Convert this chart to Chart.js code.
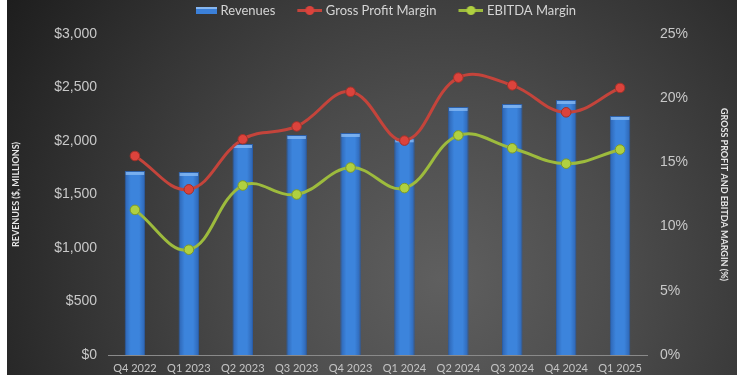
<!DOCTYPE html>
<html>
<head>
<meta charset="utf-8">
<script src="https://cdn.jsdelivr.net/npm/chart.js@4/dist/chart.umd.min.js"></script>
<style>
  html, body { margin: 0; padding: 0; background: #fff; }
  #wrap { width: 750px; height: 375px; }
</style>
</head>
<body>
<div id="wrap"><canvas id="chart" width="750" height="375"></canvas></div>
<script>
// données
const quarters = ["Q4 2022", "Q1 2023", "Q2 2023", "Q3 2023", "Q4 2023", "Q1 2024", "Q2 2024", "Q3 2024", "Q4 2024", "Q1 2025"];
const revenues = [1720, 1710, 1972, 2056, 2075, 2025, 2318, 2346, 2383, 2234];
const grossMargin = [15.5, 12.9, 16.8, 17.8, 20.5, 16.7, 21.6, 21.0, 18.9, 20.8];
const ebitdaMargin = [11.3, 8.2, 13.2, 12.5, 14.6, 13.0, 17.1, 16.1, 14.9, 16.0];

const revenueTicks = [0, 500, 1000, 1500, 2000, 2500, 3000];
const marginTicks = [0, 5, 10, 15, 20, 25];
const legendOrder = ["Revenues", "Gross Profit Margin", "EBITDA Margin"];

// icônes de légende (zone transparente à gauche pour l'espacement)
function barIcon() {
  const c = document.createElement("canvas");
  c.width = 46;
  c.height = 11;
  const g = c.getContext("2d");
  g.fillStyle = "#3b80d9";
  g.fillRect(25, 2, 21, 7);
  g.fillStyle = "#86b6f0";
  g.fillRect(25, 2, 21, 2);
  return c;
}

function lineIcon(line, dot) {
  const c = document.createElement("canvas");
  c.width = 46;
  c.height = 11;
  const g = c.getContext("2d");
  g.strokeStyle = line;
  g.lineWidth = 3;
  g.beginPath();
  g.moveTo(21, 5.5);
  g.lineTo(46, 5.5);
  g.stroke();
  g.fillStyle = dot;
  g.beginPath();
  g.arc(33.5, 5.5, 4.5, 0, Math.PI * 2);
  g.fill();
  return c;
}

const legendIcons = {
  "Revenues": barIcon(),
  "Gross Profit Margin": lineIcon("#c4443b", "#dc433c"),
  "EBITDA Margin": lineIcon("#9dbb3d", "#b0d040"),
};

// dégradé horizontal pour chaque barre
function barFill(c) {
  const chart = c.chart;
  if (!chart.chartArea || c.dataIndex === undefined) return "#3b80d9";
  const xc = chart.scales.x.getPixelForValue(c.dataIndex);
  const g = chart.ctx.createLinearGradient(xc - 10.5, 0, xc + 10.5, 0);
  g.addColorStop(0, "#2c62b0");
  g.addColorStop(0.3, "#3c84dc");
  g.addColorStop(0.7, "#3c84dc");
  g.addColorStop(1, "#2c62b0");
  return g;
}

// fond sombre avec dégradé radial + un peu d'espace sous la légende
const background = {
  id: "background",
  beforeLayout(chart) {
    const legend = chart.legend;
    if (legend && !legend._extra) {
      const fit = legend.fit;
      legend.fit = function () {
        fit.call(this);
        this.height += 7;
      };
      legend._extra = true;
    }
  },
  beforeDraw(chart) {
    const ctx = chart.ctx;
    ctx.save();
    ctx.fillStyle = "#ffffff";
    ctx.fillRect(0, 0, chart.width, chart.height);
    const grad = ctx.createRadialGradient(440, 280, 0, 440, 280, 520);
    grad.addColorStop(0, "#5f5f5f");
    grad.addColorStop(0.35, "#4c4c4c");
    grad.addColorStop(0.7, "#333333");
    grad.addColorStop(1, "#1d1d1d");
    ctx.fillStyle = grad;
    ctx.fillRect(7, 0, 730, chart.height);
    ctx.restore();
  },
  // reflet clair en haut de chaque barre
  afterDatasetDraw(chart, args) {
    if (args.meta.type !== "bar") return;
    const ctx = chart.ctx;
    ctx.save();
    ctx.fillStyle = "rgba(140, 190, 245, 0.75)";
    args.meta.data.forEach((bar) => {
      ctx.fillRect(bar.x - bar.width / 2 + 1, bar.y + 1, bar.width - 2, 3);
    });
    ctx.restore();
  },
};

// axes verticaux : largeur fixe, sans marge haute/basse imposée par les libellés
function fixWidth(w) {
  return (scale) => {
    scale.width = w;
    scale.paddingTop = 0;
    scale.paddingBottom = 0;
  };
}

const ctx = document.getElementById("chart").getContext("2d");
const comboChart = new Chart(ctx, {
  data: {
    labels: quarters,
    datasets: [
      {
        type: "line",
        label: "Gross Profit Margin",
        data: grossMargin,
        yAxisID: "y1",
        borderColor: "#c4443b",
        borderWidth: 3,
        tension: 0.4,
        pointRadius: 4.8,
        pointBackgroundColor: "#dc433c",
        pointBorderColor: "#a33129",
        pointBorderWidth: 1,
        order: 1,
      },
      {
        type: "line",
        label: "EBITDA Margin",
        data: ebitdaMargin,
        yAxisID: "y1",
        borderColor: "#9dbb3d",
        borderWidth: 3,
        tension: 0.4,
        pointRadius: 4.8,
        pointBackgroundColor: "#b0d040",
        pointBorderColor: "#7d9a28",
        pointBorderWidth: 1,
        order: 2,
      },
      {
        type: "bar",
        label: "Revenues",
        data: revenues,
        yAxisID: "y",
        backgroundColor: barFill,
        borderColor: "#2a5ea8",
        borderWidth: 1,
        categoryPercentage: 1,
        barPercentage: 0.38,
        order: 3,
      },
    ],
  },
  options: {
    responsive: false,
    animation: false,
    plugins: {
      tooltip: { enabled: false },
      legend: {
        position: "top",
        labels: {
          usePointStyle: true,
          pointStyleWidth: 40,
          color: "#d4d4d4",
          padding: 4,
          font: { family: "Lato", size: 13 },
          generateLabels(chart) {
            const items = Chart.defaults.plugins.legend.labels.generateLabels(chart);
            items.sort((a, b) => legendOrder.indexOf(a.text) - legendOrder.indexOf(b.text));
            items.forEach((it) => {
              it.pointStyle = legendIcons[it.text];
            });
            return items;
          },
        },
      },
    },
    scales: {
      x: {
        grid: { display: false, drawTicks: false },
        border: { display: true, color: "#8a8a8a", width: 1 },
        ticks: {
          color: "#c4c4c4",
          padding: 7,
          font: { family: "Lato", size: 11 },
          maxRotation: 0,
        },
        afterFit(scale) {
          scale.height = 20;
        },
      },
      y: {
        position: "left",
        min: 0,
        max: 3000,
        afterBuildTicks(scale) {
          scale.ticks = revenueTicks.map((v) => ({ value: v }));
        },
        grid: { display: false, drawTicks: false },
        border: { display: false },
        ticks: {
          color: "#c8c8c8",
          padding: 11,
          font: { family: "Liberation Sans", size: 14 },
          callback: (v) => "$" + v.toLocaleString("en-US"),
        },
        title: {
          display: true,
          text: "REVENUES ($, MILLIONS)",
          color: "#e6e6e6",
          padding: { top: 11, bottom: 0 },
          font: { family: "Lato", size: 9, weight: "bold" },
        },
        afterFit: fixWidth(108),
      },
      y1: {
        position: "right",
        min: 0,
        max: 25,
        afterBuildTicks(scale) {
          scale.ticks = marginTicks.map((v) => ({ value: v }));
        },
        grid: { display: false, drawTicks: false },
        border: { display: false },
        ticks: {
          color: "#c8c8c8",
          padding: 13,
          font: { family: "Liberation Sans", size: 14 },
          callback: (v) => v + "%",
        },
        title: {
          display: true,
          text: "GROSS PROFIT AND EBITDA MARGIN (%)",
          color: "#e6e6e6",
          padding: { top: 21, bottom: 0 },
          font: { family: "Lato", size: 9, weight: "bold" },
        },
        afterFit: fixWidth(103),
      },
    },
  },
  plugins: [background],
});
</script>
</body>
</html>
